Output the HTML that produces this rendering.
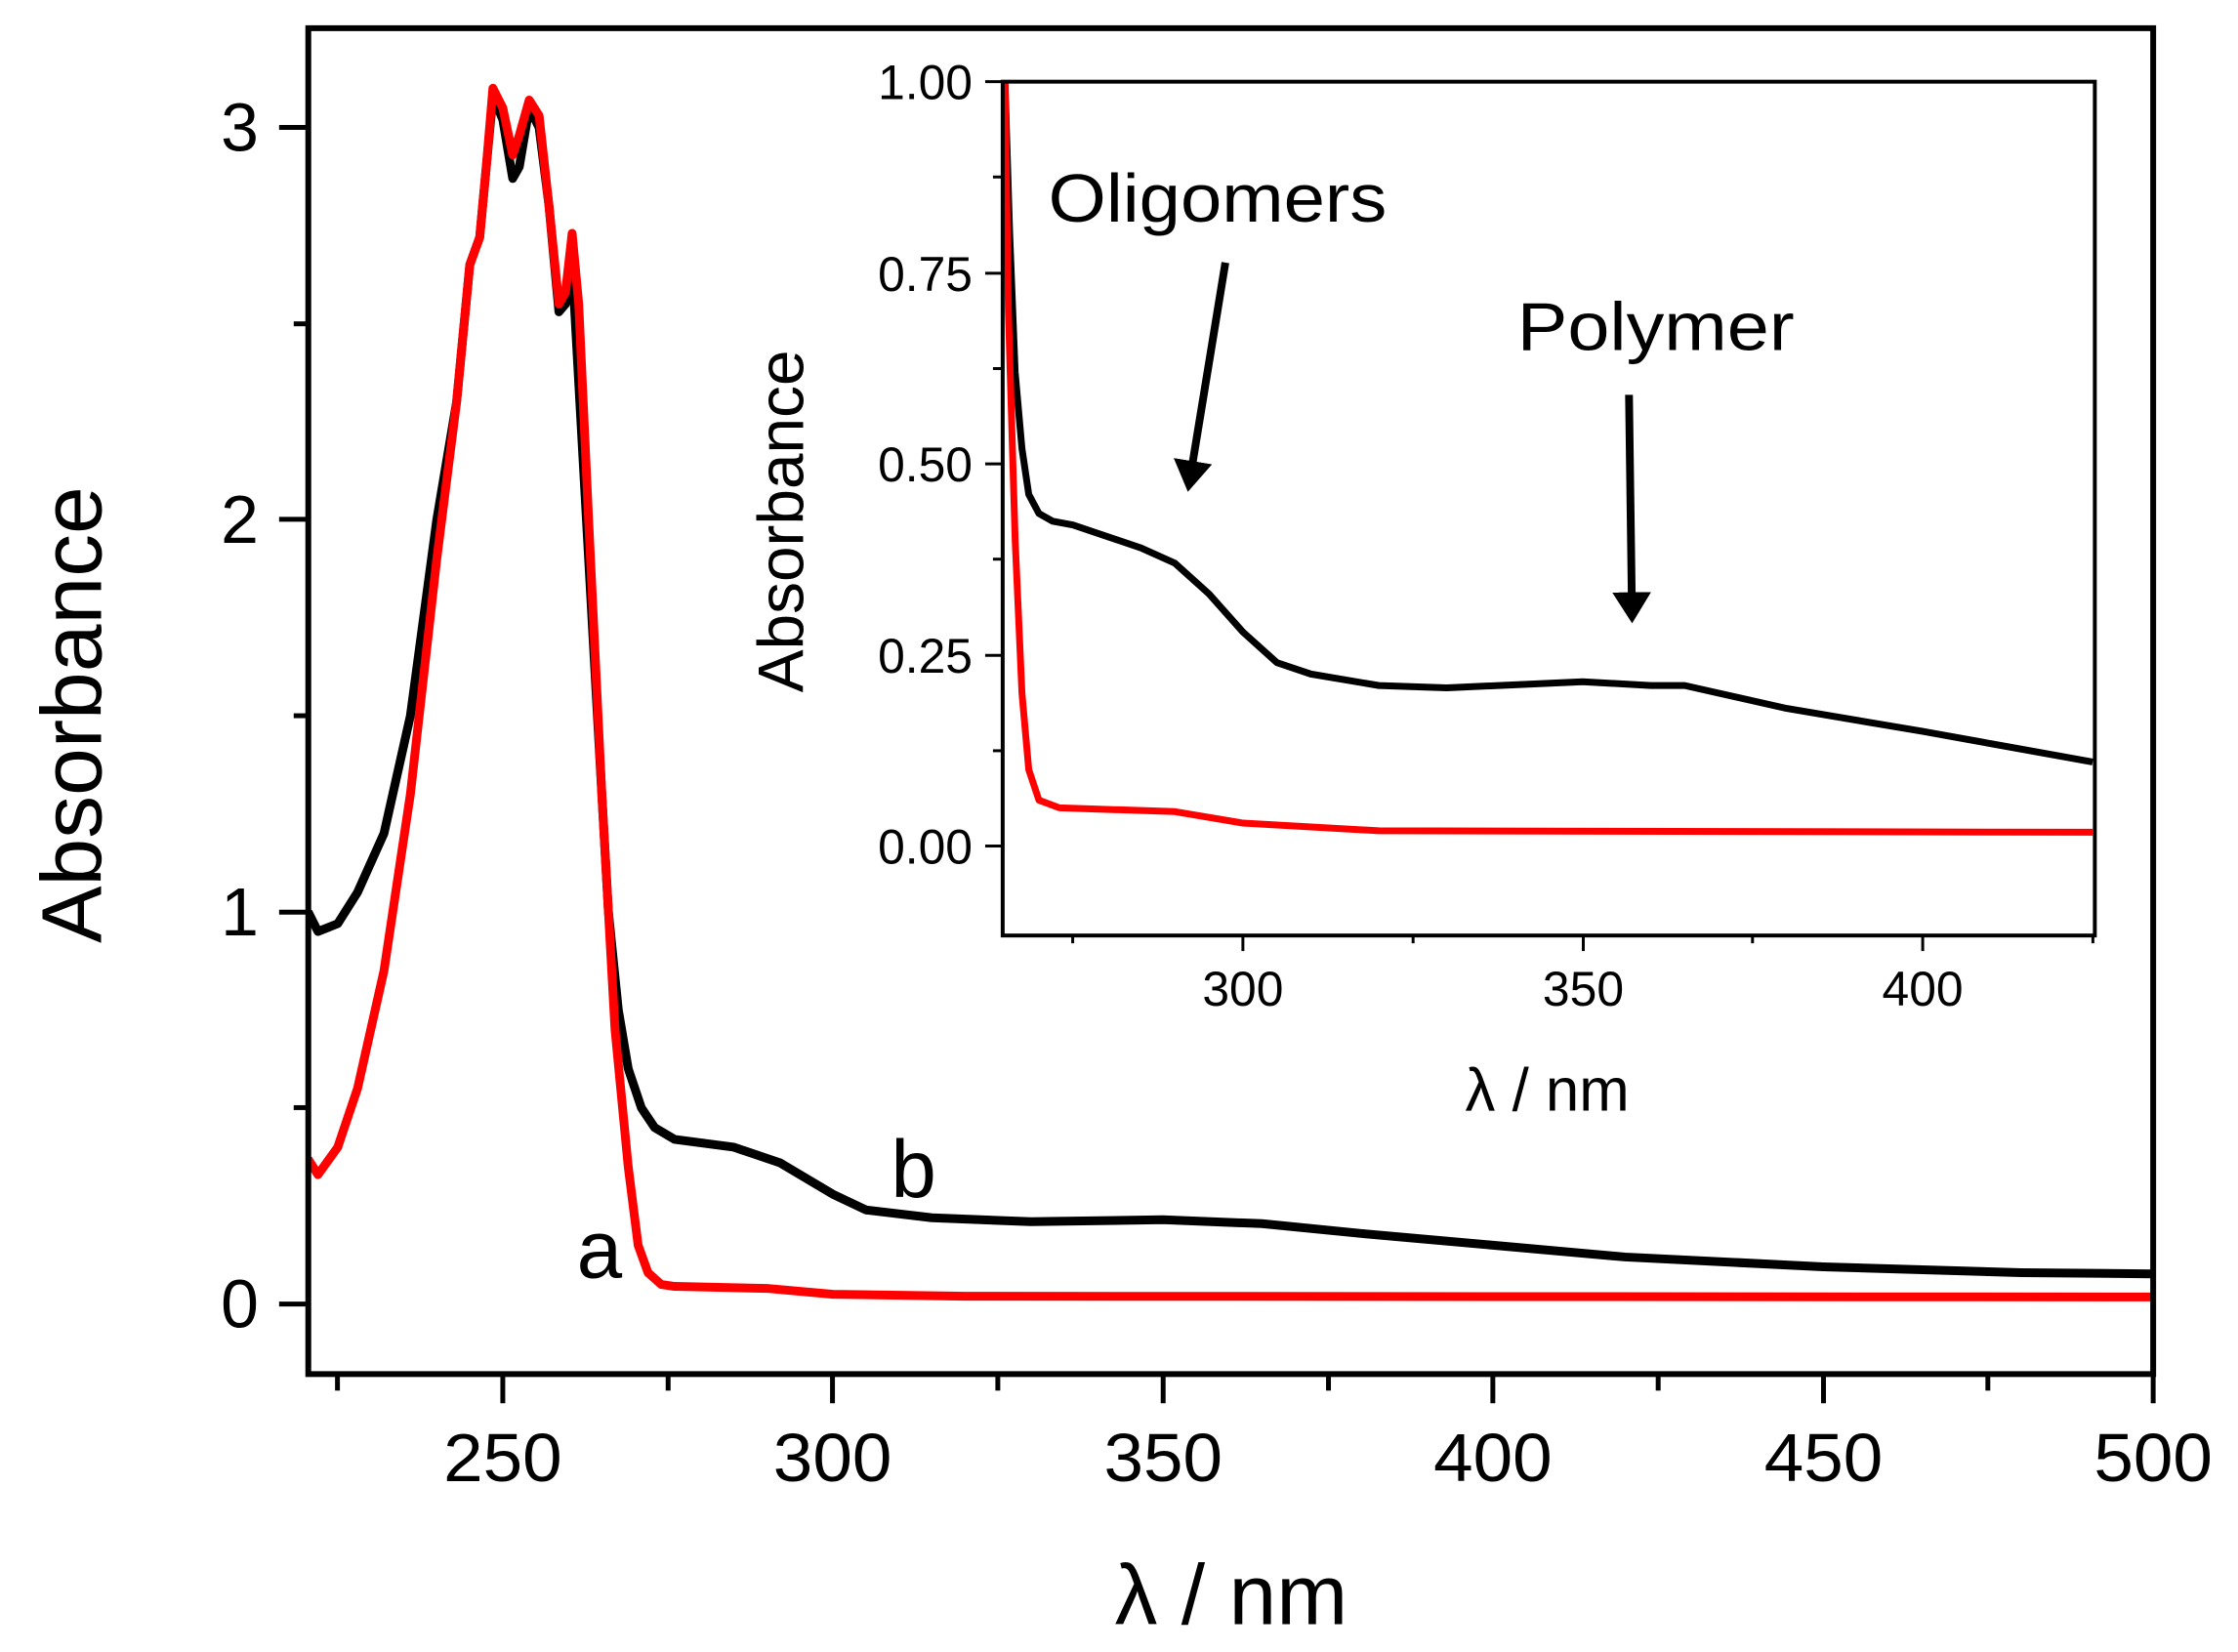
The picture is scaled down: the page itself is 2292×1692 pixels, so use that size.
<!DOCTYPE html>
<html><head><style>body{margin:0;background:#fff}svg{display:block}text{font-family:"Liberation Sans",Arial,sans-serif;fill:#000}</style></head>
<body>
<svg width="2292" height="1692" viewBox="0 0 2292 1692" xmlns="http://www.w3.org/2000/svg">
<defs>
<clipPath id="cm"><rect x="317" y="29" width="1897" height="1384"/></clipPath>
<clipPath id="ci"><rect x="1031" y="84" width="1123" height="878"/></clipPath>
<marker id="ah" markerWidth="4" markerHeight="5" refX="2" refY="2.5" orient="auto" markerUnits="strokeWidth"><path d="M0,0 L4,2.5 L0,5 z" fill="#000"/></marker>
</defs>
<g transform="scale(0.996)">
<g clip-path="url(#cm)" fill="none" stroke-linejoin="round">
<g transform="matrix(6.788 0 0 -403.3 -1180 1341)">
<polyline vector-effect="non-scaling-stroke" stroke="#000" stroke-width="9" points="220.5,1 222,0.95 225,0.97 228,1.05 232,1.2 236,1.5 240,2.0 243,2.3 245,2.65 246.5,2.72 247.5,2.9 248.5,3.08 250,3.02 251.5,2.87 252.5,2.9 254,3.05 255.5,3.0 257,2.8 258.5,2.53 259.5,2.55 260.5,2.65 262,2.2 264,1.6 266,1.0 267.5,0.75 269,0.6 271,0.5 273,0.45 276,0.42 285,0.4 292,0.36 300,0.28 305,0.24 315,0.22 330,0.21 350,0.215 365,0.205 380,0.18 400,0.15 420,0.12 450,0.095 480,0.08 500,0.077"/>
<polyline vector-effect="non-scaling-stroke" stroke="#f00" stroke-width="9" points="220.5,0.37 222,0.33 225,0.4 228,0.55 232,0.85 236,1.3 240,1.9 243,2.3 245,2.65 246.5,2.72 247.5,2.9 248.5,3.1 250,3.05 251.5,2.93 252.5,2.98 254,3.07 255.5,3.03 257,2.8 258.5,2.55 259.5,2.58 260.5,2.73 261.5,2.55 263,2.0 265,1.3 267,0.7 269,0.35 270.5,0.15 272,0.08 274,0.05 276,0.045 290,0.04 300,0.025 320,0.02 500,0.018"/>
</g></g>
<rect x="317" y="29" width="1897" height="1384" fill="none" stroke="#000" stroke-width="6"/>
<g stroke="#000" stroke-width="5">
<line x1="517" y1="1413" x2="517" y2="1443"/><line x1="856" y1="1413" x2="856" y2="1443"/><line x1="1196" y1="1413" x2="1196" y2="1443"/><line x1="1535" y1="1413" x2="1535" y2="1443"/><line x1="1875" y1="1413" x2="1875" y2="1443"/><line x1="2214" y1="1413" x2="2214" y2="1443"/>
<line x1="347" y1="1413" x2="347" y2="1430"/><line x1="687" y1="1413" x2="687" y2="1430"/><line x1="1026" y1="1413" x2="1026" y2="1430"/><line x1="1366" y1="1413" x2="1366" y2="1430"/><line x1="1705" y1="1413" x2="1705" y2="1430"/><line x1="2044" y1="1413" x2="2044" y2="1430"/>
<line x1="287" y1="1341" x2="317" y2="1341"/><line x1="287" y1="938" x2="317" y2="938"/><line x1="287" y1="534" x2="317" y2="534"/><line x1="287" y1="131" x2="317" y2="131"/>
<line x1="302" y1="1139" x2="317" y2="1139"/><line x1="302" y1="736" x2="317" y2="736"/><line x1="302" y1="333" x2="317" y2="333"/>
</g>
<g font-size="70" text-anchor="end">
<text x="266" y="1365">0</text><text x="266" y="962">1</text><text x="266" y="558">2</text><text x="266" y="155">3</text>
</g>
<g font-size="70" text-anchor="middle">
<text x="517" y="1523" textLength="122" lengthAdjust="spacingAndGlyphs">250</text><text x="856" y="1523" textLength="122" lengthAdjust="spacingAndGlyphs">300</text><text x="1196" y="1523" textLength="122" lengthAdjust="spacingAndGlyphs">350</text><text x="1535" y="1523" textLength="122" lengthAdjust="spacingAndGlyphs">400</text><text x="1875" y="1523" textLength="122" lengthAdjust="spacingAndGlyphs">450</text><text x="2214" y="1523" textLength="122" lengthAdjust="spacingAndGlyphs">500</text>
</g>
<text x="1266" y="1670" font-size="88" text-anchor="middle">λ / nm</text>
<text transform="translate(104,735) rotate(-90)" font-size="88" text-anchor="middle">Absorbance</text>
<text x="593" y="1314" font-size="84">a</text>
<text x="916" y="1231" font-size="84">b</text>
<rect x="1031" y="84" width="1123" height="878" fill="#fff" stroke="none"/>
<g clip-path="url(#ci)" fill="none" stroke-linejoin="round">
<g transform="matrix(6.99 0 0 -786 -819 870)">
<polyline vector-effect="non-scaling-stroke" stroke="#000" stroke-width="7" points="264.5,1.05 265,1.0 265.7,0.8 266.5,0.62 267.5,0.52 268.5,0.46 270,0.435 272,0.425 275,0.42 285,0.39 290,0.37 295,0.33 300,0.28 305,0.24 310,0.225 320,0.21 330,0.207 350,0.215 360,0.21 365,0.21 380,0.18 400,0.15 425,0.11"/>
<polyline vector-effect="non-scaling-stroke" stroke="#f00" stroke-width="7" points="264.5,1.05 265,1.0 265.5,0.7 266.5,0.4 267.5,0.2 268.5,0.1 270,0.06 273,0.05 290,0.045 300,0.03 320,0.02 425,0.018"/>
</g></g>
<rect x="1031" y="84" width="1123" height="878" fill="none" stroke="#000" stroke-width="4"/>
<g stroke="#000" stroke-width="3">
<line x1="1013" y1="84" x2="1031" y2="84"/><line x1="1013" y1="281" x2="1031" y2="281"/><line x1="1013" y1="477" x2="1031" y2="477"/><line x1="1013" y1="674" x2="1031" y2="674"/><line x1="1013" y1="870" x2="1031" y2="870"/>
<line x1="1021" y1="182" x2="1031" y2="182"/><line x1="1021" y1="379" x2="1031" y2="379"/><line x1="1021" y1="575" x2="1031" y2="575"/><line x1="1021" y1="772" x2="1031" y2="772"/>
<line x1="1278" y1="962" x2="1278" y2="978"/><line x1="1628" y1="962" x2="1628" y2="978"/><line x1="1977" y1="962" x2="1977" y2="978"/>
<line x1="1103" y1="962" x2="1103" y2="970"/><line x1="1453" y1="962" x2="1453" y2="970"/><line x1="1802" y1="962" x2="1802" y2="970"/><line x1="2152" y1="962" x2="2152" y2="970"/>
</g>
<g font-size="50" text-anchor="end">
<text x="1000" y="102">1.00</text><text x="1000" y="299">0.75</text><text x="1000" y="495">0.50</text><text x="1000" y="692">0.25</text><text x="1000" y="888">0.00</text>
</g>
<g font-size="50" text-anchor="middle">
<text x="1278" y="1034">300</text><text x="1628" y="1034">350</text><text x="1977" y="1034">400</text>
</g>
<text x="1591" y="1142" font-size="62" text-anchor="middle">λ / nm</text>
<text transform="translate(826,536) rotate(-90)" font-size="66" text-anchor="middle">Absorbance</text>
<text x="1078" y="228" font-size="70" textLength="348" lengthAdjust="spacingAndGlyphs">Oligomers</text>
<text x="1560" y="360" font-size="70" textLength="285" lengthAdjust="spacingAndGlyphs">Polymer</text>
<g stroke="#000" stroke-width="8" fill="none">
<line x1="1260" y1="270" x2="1224" y2="490" marker-end="url(#ah)"/>
<line x1="1675" y1="406" x2="1678" y2="625" marker-end="url(#ah)"/>
</g>
</g>
</svg>
</body></html>
